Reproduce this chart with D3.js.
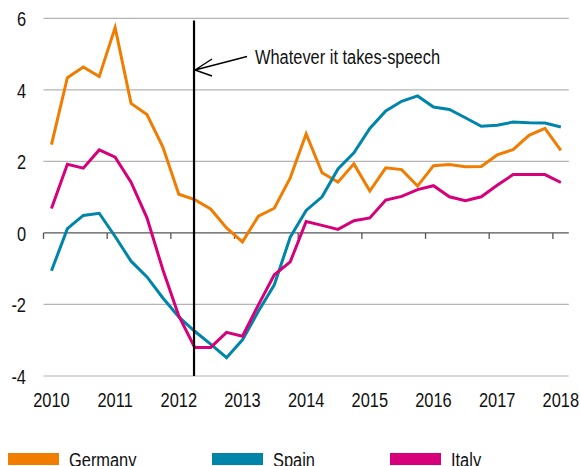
<!DOCTYPE html>
<html>
<head>
<meta charset="utf-8">
<script src="https://cdn.jsdelivr.net/npm/d3@7"></script>
<style>
body { margin: 0; background: #fff; }
svg text { font-family: "Liberation Sans", Arial, sans-serif; font-size: 20px; fill: #111; }
</style>
</head>
<body>
<svg id="chart" width="580" height="466"></svg>
<script>
// quarterly, 2010Q1 .. 2018Q1
var quarters = d3.range(0, 33).map(function(i){ return (2010 + Math.floor(i/4)) + "Q" + (i%4 + 1); });
var germany = [2.47, 4.34, 4.64, 4.37, 5.74, 3.62, 3.31, 2.40, 1.08, 0.93, 0.67, 0.14, -0.25, 0.47, 0.69, 1.54,
               2.77, 1.68, 1.42, 1.93, 1.17, 1.82, 1.77, 1.31, 1.88, 1.91, 1.85, 1.86, 2.18, 2.33, 2.73, 2.92, 2.31];
var spain   = [-1.06, 0.12, 0.49, 0.55, -0.1, -0.79, -1.23, -1.82, -2.35, -2.75, -3.11, -3.49, -2.99, -2.19, -1.45, -0.12,
               0.63, 1.01, 1.79, 2.24, 2.92, 3.41, 3.68, 3.83, 3.52, 3.45, 3.22, 2.98, 3.01, 3.10, 3.08, 3.07, 2.96];
var italy   = [0.68, 1.92, 1.81, 2.32, 2.12, 1.42, 0.42, -1.03, -2.32, -3.20, -3.20, -2.78, -2.89, -2.01, -1.17, -0.81,
               0.32, 0.21, 0.10, 0.34, 0.42, 0.92, 1.02, 1.21, 1.32, 1.01, 0.90, 1.01, 1.33, 1.63, 1.63, 1.63, 1.41];
var yTicks = [6, 4, 2, 0, -2, -4];
var yearLabels = ["2010","2011","2012","2013","2014","2015","2016","2017","2018"];
var seriesNames = ["Germany", "Spain", "Italy"];
var seriesColors = ["#f07d00", "#0085aa", "#d6007b"];
var speechQuarter = "2012Q2";
var speechLabel = "Whatever it takes-speech";

var svg = d3.select("#chart");
var mLeft = 43.5, mRight = 568.8, mTop = 18.3, mBottom = 376;

var x = d3.scaleBand().domain(quarters).range([mLeft, mRight]);
var y = d3.scaleLinear().domain([-4, 6]).range([mBottom, mTop]);
var xc = function(q){ return x(q) + x.bandwidth()/2; };

// narrow look: squeeze glyphs like a condensed face
function narrow(sel){
  sel.each(function(){
    var w = this.getComputedTextLength();
    d3.select(this).attr("textLength", w * 0.82).attr("lengthAdjust", "spacingAndGlyphs");
  });
}

// grid
svg.append("g").selectAll("line")
  .data(yTicks.filter(function(d){ return d !== 0; }))
  .enter().append("line")
  .attr("x1", mLeft).attr("x2", mRight)
  .attr("y1", function(d){ return y(d); }).attr("y2", function(d){ return y(d); })
  .attr("stroke", "#b4b4b4").attr("stroke-width", 1.2);

// y labels
svg.append("g").selectAll("text")
  .data(yTicks)
  .enter().append("text")
  .attr("x", 26).attr("y", function(d){ return y(d) + 1; })
  .attr("text-anchor", "end").attr("dominant-baseline", "central")
  .text(function(d){ return d; })
  .call(narrow);

// zero axis with year ticks
var yearStarts = quarters.filter(function(q){ return /Q1$/.test(q); });
svg.append("line")
  .attr("x1", mLeft).attr("x2", mRight).attr("y1", y(0)).attr("y2", y(0))
  .attr("stroke", "#555").attr("stroke-width", 1.3);
svg.append("g").selectAll("line")
  .data(yearStarts)
  .enter().append("line")
  .attr("x1", function(q){ return x(q); }).attr("x2", function(q){ return x(q); })
  .attr("y1", y(0)).attr("y2", y(0) + 6)
  .attr("stroke", "#555").attr("stroke-width", 1.3);

// x labels
svg.append("g").selectAll("text")
  .data(yearLabels)
  .enter().append("text")
  .attr("x", function(d){ return xc(d + "Q1"); })
  .attr("y", 407)
  .attr("text-anchor", "middle")
  .text(function(d){ return d; })
  .call(narrow);

// lines
var line = d3.line()
  .x(function(d, i){ return xc(quarters[i]); })
  .y(function(d){ return y(d); });

[germany, spain, italy].forEach(function(s, k){
  svg.append("path")
    .datum(s)
    .attr("d", line)
    .attr("fill", "none")
    .attr("stroke", seriesColors[k])
    .attr("stroke-width", 3)
    .attr("stroke-linejoin", "miter");
});

// speech marker
var sx = xc(speechQuarter) - 0.7;
svg.append("line")
  .attr("x1", sx).attr("x2", sx).attr("y1", 20.5).attr("y2", mBottom)
  .attr("stroke", "#000").attr("stroke-width", 2.2);
var tipY = 70;
svg.append("path")
  .attr("d", "M" + (sx + 53) + "," + 56.5 + "L" + (sx + 1) + "," + tipY +
             "M" + (sx + 18) + "," + 59 + "L" + (sx + 1) + "," + tipY + "L" + (sx + 18) + "," + 76)
  .attr("fill", "none").attr("stroke", "#000").attr("stroke-width", 1.4);
svg.append("text")
  .attr("x", 255).attr("y", 63.5)
  .text(speechLabel)
  .call(narrow);

// legend
var legX = [8, 212, 390];
var leg = svg.append("g").selectAll("g")
  .data(seriesNames)
  .enter().append("g")
  .attr("transform", function(d, i){ return "translate(" + legX[i] + ",0)"; });
leg.append("rect")
  .attr("x", 0).attr("y", 453).attr("width", 51).attr("height", 12)
  .attr("fill", function(d, i){ return seriesColors[i]; });
leg.append("text")
  .attr("x", 61).attr("y", 467)
  .text(function(d){ return d; })
  .call(narrow);
</script>
</body>
</html>
